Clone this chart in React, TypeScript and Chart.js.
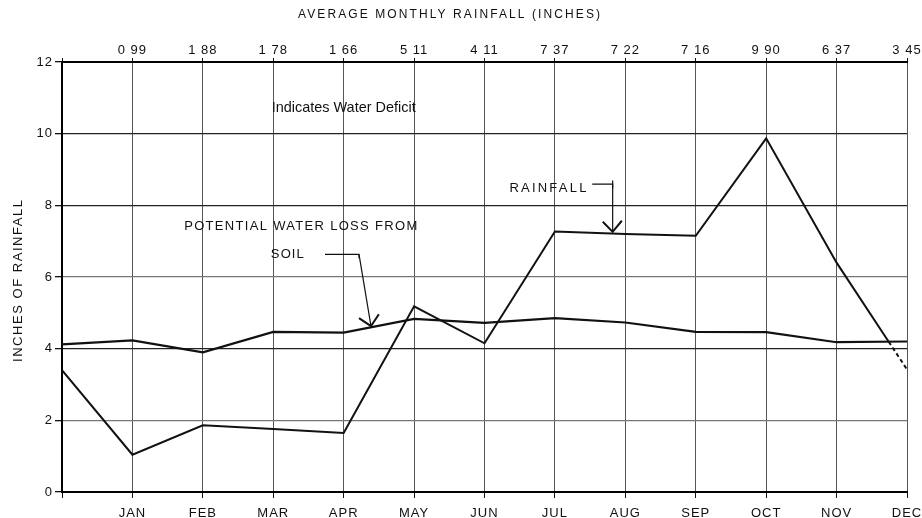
import React, { useEffect, useRef } from 'react';
import { Chart, registerables } from 'chart.js';

Chart.register(...registerables);

// ---- data ----
const MONTHS = ['', 'JAN', 'FEB', 'MAR', 'APR', 'MAY', 'JUN', 'JUL', 'AUG', 'SEP', 'OCT', 'NOV', 'DEC'];
const RAINFALL_LABELS = ['', '0 99', '1 88', '1 78', '1 66', '5 11', '4 11', '7 37', '7 22', '7 16', '9 90', '6 37', '3 45'];
const RAINFALL = [3.4, 1.04, 1.86, 1.76, 1.65, 5.18, 4.15, 7.27, 7.2, 7.15, 9.87, 6.4, 3.42];
const WATER_LOSS = [4.12, 4.23, 3.9, 4.47, 4.45, 4.83, 4.72, 4.85, 4.73, 4.47, 4.46, 4.18, 4.2];
const Y_MIN = 0;
const Y_MAX = 12;
const Y_STEP = 2;
const TITLE_TOP = 'AVERAGE MONTHLY RAINFALL (INCHES)';
const TITLE_Y = 'INCHES OF RAINFALL';
const NOTE_DEFICIT = 'Indicates Water Deficit';
const NOTE_LOSS_1 = 'POTENTIAL WATER LOSS FROM';
const NOTE_LOSS_2 = 'SOIL';
const NOTE_RAIN = 'RAINFALL';

const FONT = '"Liberation Sans", Arial, sans-serif';
const INK = '#111';

// crossing of rainfall and water-loss in the last interval (line turns dashed after it)
const last = RAINFALL.length - 1;
const d0 = RAINFALL[last - 1] - WATER_LOSS[last - 1];
const d1 = RAINFALL[last] - WATER_LOSS[last];
const tCross = d0 / (d0 - d1);
const crossX = last - 1 + tCross;
const crossY = RAINFALL[last - 1] + tCross * (RAINFALL[last] - RAINFALL[last - 1]);

// draw text centred at (x, y), spread (letter spacing) or squeezed (scale) to a target width
function drawText(
  ctx: CanvasRenderingContext2D,
  text: string,
  x: number,
  y: number,
  size: number,
  width: number,
  mode: 'spread' | 'scale',
  rotate = 0
) {
  ctx.save();
  ctx.font = `${size}px ${FONT}`;
  (ctx as any).letterSpacing = '0px';
  const natural = ctx.measureText(text).width;
  ctx.fillStyle = INK;
  ctx.textAlign = 'left';
  ctx.textBaseline = 'middle';
  ctx.translate(x, y);
  if (rotate) ctx.rotate(rotate);
  if (mode === 'spread' && text.length > 1) {
    const sp = Math.max(0, (width - natural) / (text.length - 1));
    (ctx as any).letterSpacing = `${sp}px`;
    ctx.fillText(text, -width / 2, 0);
  } else {
    ctx.scale(width / natural, 1);
    ctx.fillText(text, -natural / 2, 0);
  }
  ctx.restore();
}

function polyline(ctx: CanvasRenderingContext2D, pts: number[][], width: number) {
  ctx.save();
  ctx.strokeStyle = INK;
  ctx.lineWidth = width;
  ctx.beginPath();
  pts.forEach(([x, y], i) => (i ? ctx.lineTo(x, y) : ctx.moveTo(x, y)));
  ctx.stroke();
  ctx.restore();
}

const spacingPlugin = {
  id: 'spacing',
  beforeDraw(chart: any) {
    chart.ctx.letterSpacing = '1px';
  },
  afterDraw(chart: any) {
    chart.ctx.letterSpacing = '0px';
  },
};

const notesPlugin = {
  id: 'notes',
  afterDatasetsDraw(chart: any) {
    const ctx: CanvasRenderingContext2D = chart.ctx;
    const xs = chart.scales.x;
    const ys = chart.scales.y;
    const X = (v: number) => xs.getPixelForValue(v);
    const Y = (v: number) => ys.getPixelForValue(v);
    const P = (a: number, b: number) => [X(a), Y(b)];

    // titles
    drawText(ctx, TITLE_TOP, 449, 15, 12, 302, 'spread');
    drawText(ctx, TITLE_Y, 18, 281, 13, 162, 'spread', -Math.PI / 2);

    // annotations
    drawText(ctx, NOTE_DEFICIT, X(4.0), Y(10.72), 15, 144, 'scale');
    drawText(ctx, NOTE_LOSS_1, X(3.39), Y(7.4), 13, 233, 'spread');
    drawText(ctx, NOTE_LOSS_2, X(3.2), Y(6.62), 13, 33, 'spread');
    drawText(ctx, NOTE_RAIN, X(6.9), Y(8.47), 13, 77, 'spread');

    // leader for water loss
    polyline(ctx, [P(3.735, 6.63), P(4.218, 6.63), P(4.388, 4.63)], 1.2);
    polyline(ctx, [P(4.218, 6.63), P(4.218, 6.52)], 1.2);
    polyline(ctx, [P(4.218, 4.85), P(4.388, 4.63), P(4.5, 4.96)], 2);

    // leader for rainfall
    polyline(ctx, [P(7.53, 8.59), P(7.82, 8.59), P(7.82, 7.26)], 1.2);
    polyline(ctx, [P(7.82, 8.69), P(7.82, 8.47)], 1.2);
    polyline(ctx, [P(7.68, 7.54), P(7.82, 7.26), P(7.95, 7.57)], 2);
  },
};

export default function App() {
  const ref = useRef<HTMLCanvasElement | null>(null);

  useEffect(() => {
    if (!ref.current) return;
    const tickFont = { family: FONT, size: 13 };
    const chart = new Chart(ref.current, {
      type: 'line',
      data: {
        datasets: [
          {
            label: 'Rainfall',
            data: [
              ...RAINFALL.slice(0, last).map((v, i) => ({ x: i, y: v })),
              { x: crossX, y: crossY },
            ],
            borderColor: INK,
            borderWidth: 2,
            pointRadius: 0,
            tension: 0,
          },
          {
            label: 'Rainfall (deficit)',
            data: [
              { x: crossX, y: crossY },
              { x: last, y: RAINFALL[last] },
            ],
            borderColor: INK,
            borderWidth: 2,
            borderDash: [4, 3],
            pointRadius: 0,
            tension: 0,
          },
          {
            label: 'Potential water loss from soil',
            data: WATER_LOSS.map((v, i) => ({ x: i, y: v })),
            borderColor: INK,
            borderWidth: 2.2,
            pointRadius: 0,
            tension: 0,
          },
        ],
      },
      options: {
        animation: false,
        responsive: true,
        maintainAspectRatio: false,
        layout: { padding: { left: 8, right: 15, top: 0, bottom: 0 } },
        plugins: { legend: { display: false }, tooltip: { enabled: false }, title: { display: false } },
        scales: {
          x: {
            type: 'linear',
            position: 'bottom',
            min: 0,
            max: MONTHS.length - 1,
            ticks: {
              stepSize: 1,
              autoSkip: false,
              maxRotation: 0,
              padding: 8,
              color: INK,
              font: tickFont,
              callback: (v: any) => MONTHS[v] ?? '',
            },
            grid: { color: '#555', lineWidth: 1, tickLength: 6, tickColor: INK },
            border: { display: true, color: '#000', width: 2 },
            afterFit: (s: any) => {
              s.height = 26;
              s.paddingLeft = 0;
              s.paddingRight = 0;
            },
          },
          x2: {
            type: 'linear',
            position: 'top',
            min: 0,
            max: RAINFALL_LABELS.length - 1,
            ticks: {
              stepSize: 1,
              autoSkip: false,
              maxRotation: 0,
              padding: 0,
              color: INK,
              font: tickFont,
              callback: (v: any) => RAINFALL_LABELS[v] ?? '',
            },
            grid: { drawOnChartArea: false, tickLength: 4, color: INK },
            border: { display: true, color: '#000', width: 2 },
            afterFit: (s: any) => {
              s.height = 62;
              s.paddingLeft = 0;
              s.paddingRight = 0;
            },
          },
          y: {
            type: 'linear',
            position: 'left',
            min: Y_MIN,
            max: Y_MAX,
            ticks: { stepSize: Y_STEP, padding: 2, color: INK, font: tickFont },
            grid: {
              color: (c: any) => (c.tick && (c.tick.value === 2 || c.tick.value === 6) ? '#777' : '#222'),
              lineWidth: 1.3,
              tickLength: 7,
              tickColor: INK,
            },
            border: { display: true, color: '#000', width: 2 },
            afterFit: (s: any) => {
              s.width = 54;
            },
          },
        },
      },
      plugins: [spacingPlugin, notesPlugin],
    } as any);
    return () => chart.destroy();
  }, []);

  return (
    <div style={{ position: 'absolute', left: 0, top: 0, width: 922, height: 518, background: '#fff' }}>
      <canvas ref={ref} />
    </div>
  );
}
